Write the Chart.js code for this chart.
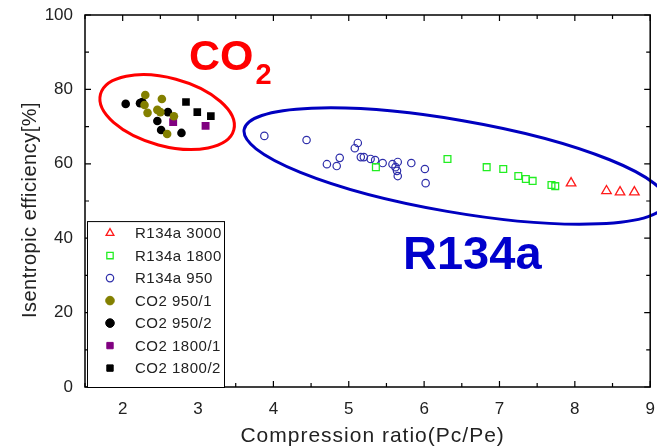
<!DOCTYPE html>
<html>
<head>
<meta charset="utf-8">
<script src="https://cdn.jsdelivr.net/npm/chart.js@4.4.0/dist/chart.umd.min.js"></script>
<style>
html,body{margin:0;padding:0;background:#fff;}
canvas{display:block;}
</style>
</head>
<body>
<canvas id="myScatter" width="657" height="448"></canvas>
<script>
// axis ticks
var xTicks=[2,3,4,5,6,7,8,9];
var yTicks=[0,20,40,60,80,100];
var xMinor=[1.5,2.5,3.5,4.5,5.5,6.5,7.5,8.5];
var yMinor=[10,30,50,70,90];
var xTitle='Compression ratio(Pc/Pe)';
var yTitle='Isentropic efficiency[%]';

// R134a series
var r134a3000X=[7.95,8.42,8.60,8.79];
var r134a3000Y=[54.8,52.7,52.4,52.4];
var r134a1800X=[5.36,6.31,6.83,7.05,7.25,7.35,7.44,7.69,7.74];
var r134a1800Y=[59.1,61.3,59.1,58.6,56.7,55.9,55.4,54.3,54.0];
var r134a950X=[3.88,4.44,4.71,4.84,4.88,5.08,5.12,5.16,5.20,5.29,5.35,5.45,5.58,5.62,5.64,5.65,5.65,5.83,6.01,6.02];
var r134a950Y=[67.5,66.4,59.9,59.4,61.6,64.2,65.6,61.8,61.8,61.3,61.0,60.2,59.9,59.1,58.1,56.7,60.5,60.2,58.6,54.8];

// CO2 series
var co2_950_1X=[2.29,2.30,2.33,2.46,2.50,2.52,2.59,2.68];
var co2_950_1Y=[75.8,78.5,73.7,74.5,73.9,77.4,68.0,72.8];
var co2_950_2X=[2.04,2.23,2.26,2.46,2.51,2.60,2.78];
var co2_950_2Y=[76.1,76.3,76.6,71.5,69.1,73.9,68.3];
var co2_1800_1X=[2.67,3.10];
var co2_1800_1Y=[71.2,70.2];
var co2_1800_2X=[2.84,2.99,3.17];
var co2_1800_2Y=[76.6,73.9,72.8];

function pts(xs,ys){
  var out=[];
  for(var i=0;i<xs.length;i++){out.push({x:xs[i],y:ys[i]});}
  return out;
}

var FONT="'Liberation Sans', Arial, sans-serif";

var datasets=[
  {label:"R134a 3000",data:pts(r134a3000X,r134a3000Y),pointStyle:'triangle',pointRadius:5.5,
   backgroundColor:'rgba(0,0,0,0)',borderColor:'#ff1a1a',pointBorderWidth:1.3},
  {label:"R134a 1800",data:pts(r134a1800X,r134a1800Y),pointStyle:'rect',pointRadius:4.8,
   backgroundColor:'rgba(0,0,0,0)',borderColor:'#22ee22',pointBorderWidth:1.3},
  {label:"R134a 950",data:pts(r134a950X,r134a950Y),pointStyle:'circle',pointRadius:3.7,
   backgroundColor:'rgba(0,0,0,0)',borderColor:'#2e2eaa',pointBorderWidth:1.2},
  {label:"CO2 950/1",data:pts(co2_950_1X,co2_950_1Y),pointStyle:'circle',pointRadius:4.3,
   backgroundColor:'#838000',borderColor:'#838000',pointBorderWidth:0},
  {label:"CO2 950/2",data:pts(co2_950_2X,co2_950_2Y),pointStyle:'circle',pointRadius:4.3,
   backgroundColor:'#000',borderColor:'#000',pointBorderWidth:0},
  {label:"CO2 1800/1",data:pts(co2_1800_1X,co2_1800_1Y),pointStyle:'rect',pointRadius:5.6,
   backgroundColor:'#800080',borderColor:'#800080',pointBorderWidth:0},
  {label:"CO2 1800/2",data:pts(co2_1800_2X,co2_1800_2Y),pointStyle:'rect',pointRadius:5.4,
   backgroundColor:'#000',borderColor:'#000',pointBorderWidth:0}
];

// ellipses + big labels (centres in data units)
var annoPlugin={
  id:'anno',
  beforeDatasetsDraw:function(chart){
    var ctx=chart.ctx, xs=chart.scales.x, ys=chart.scales.y;
    ctx.save();
    ctx.lineWidth=3;
    ctx.strokeStyle='#ff0000';
    ctx.beginPath();
    ctx.ellipse(xs.getPixelForValue(2.59),ys.getPixelForValue(73.9),69,34,15*Math.PI/180,0,2*Math.PI);
    ctx.stroke();
    ctx.strokeStyle='#0000c0';
    ctx.beginPath();
    ctx.ellipse(xs.getPixelForValue(6.41),ys.getPixelForValue(59.4),214,46,9.8*Math.PI/180,0,2*Math.PI);
    ctx.stroke();

    ctx.fillStyle='#ff0000';
    ctx.textBaseline='alphabetic';
    ctx.textAlign='left';
    var cx=xs.getPixelForValue(2.88), cy=ys.getPixelForValue(85.2);
    ctx.font='bold 43px '+FONT;
    ctx.fillText('CO',cx,cy);
    var w=ctx.measureText('CO').width;
    ctx.font='bold 29px '+FONT;
    ctx.fillText('2',cx+w+2,cy+14);

    ctx.fillStyle='#0000cc';
    ctx.font='bold 47px '+FONT;
    ctx.fillText('R134a',xs.getPixelForValue(5.72),ys.getPixelForValue(31.7));
    ctx.restore();
  }
};

function drawMarker(ctx,ds,x,y){
  ctx.save();
  ctx.fillStyle=ds.backgroundColor;
  ctx.strokeStyle=ds.borderColor;
  ctx.lineWidth=ds.pointBorderWidth||0;
  var r=ds.pointRadius;
  ctx.beginPath();
  if(ds.pointStyle==='triangle'){
    ctx.moveTo(x,y-r);
    ctx.lineTo(x+r*0.866,y+r*0.5);
    ctx.lineTo(x-r*0.866,y+r*0.5);
    ctx.closePath();
  }else if(ds.pointStyle==='rect'){
    var s=r*Math.SQRT1_2;
    ctx.rect(x-s,y-s,2*s,2*s);
  }else{
    ctx.arc(x,y,r,0,2*Math.PI);
  }
  ctx.fill();
  if(ctx.lineWidth>0){ctx.stroke();}
  ctx.restore();
}

// frame with inward ticks, axis titles, legend box
var framePlugin={
  id:'frame',
  afterDraw:function(chart){
    var ctx=chart.ctx, a=chart.chartArea, xs=chart.scales.x, ys=chart.scales.y;
    ctx.save();
    ctx.strokeStyle='#000';
    ctx.lineWidth=1.5;
    ctx.strokeRect(a.left,a.top,a.right-a.left,a.bottom-a.top);
    ctx.lineWidth=1.2;
    ctx.beginPath();
    function xt(v,len){
      var px=xs.getPixelForValue(v);
      ctx.moveTo(px,a.bottom);ctx.lineTo(px,a.bottom-len);
      ctx.moveTo(px,a.top);ctx.lineTo(px,a.top+len);
    }
    function yt(v,len){
      var py=ys.getPixelForValue(v);
      ctx.moveTo(a.left,py);ctx.lineTo(a.left+len,py);
      ctx.moveTo(a.right,py);ctx.lineTo(a.right-len,py);
    }
    xTicks.forEach(function(v){xt(v,6);});
    xMinor.forEach(function(v){xt(v,4);});
    yTicks.forEach(function(v){yt(v,6);});
    yMinor.forEach(function(v){yt(v,4);});
    ctx.stroke();

    // axis titles (letter-spaced like the original)
    ctx.fillStyle='#222';
    ctx.textAlign='center';
    ctx.textBaseline='middle';
    ctx.letterSpacing='1px';
    ctx.font='21px '+FONT;
    ctx.fillText(xTitle,(a.left+a.right)/2+5,436);
    ctx.save();
    ctx.translate(30,(a.top+a.bottom)/2+9);
    ctx.rotate(-Math.PI/2);
    ctx.letterSpacing='0.5px';
    ctx.font='20px '+FONT;
    ctx.fillText(yTitle,0,0);
    ctx.restore();

    // legend
    var lx=a.left+2, ly=ys.getPixelForValue(44.6), lw=137, lh=a.bottom-ly;
    ctx.fillStyle='#fff';
    ctx.fillRect(lx,ly,lw,lh);
    ctx.lineWidth=1;
    ctx.strokeStyle='#000';
    ctx.strokeRect(lx+0.5,ly+0.5,lw,lh);
    ctx.letterSpacing='0.5px';
    ctx.font='15px '+FONT;
    ctx.textBaseline='middle';
    ctx.textAlign='left';
    var dsets=chart.data.datasets;
    for(var i=0;i<dsets.length;i++){
      var yy=ly+12+i*22.5;
      var d=Object.assign({},dsets[i]);
      d.pointRadius=Math.min(d.pointRadius,4.5);
      drawMarker(ctx,d,lx+23,yy);
      ctx.fillStyle='#222';
      ctx.fillText(dsets[i].label,lx+48,yy+1);
    }
    ctx.letterSpacing='0px';
    ctx.restore();
  }
};

var ctx=document.getElementById('myScatter');
var scatter=new Chart(ctx,{
  type:'scatter',
  data:{datasets:datasets},
  plugins:[annoPlugin,framePlugin],
  options:{
    responsive:false,
    animation:false,
    devicePixelRatio:1,
    layout:{padding:{top:15,right:6,left:0,bottom:0}},
    plugins:{legend:{display:false},tooltip:{enabled:false}},
    scales:{
      x:{
        type:'linear',min:1.5,max:9,
        afterBuildTicks:function(s){s.ticks=xTicks.map(function(v){return {value:v};});},
        afterFit:function(s){s.height=61;s.paddingLeft=0;s.paddingRight=0;},
        grid:{display:false,drawTicks:false},
        border:{display:false},
        ticks:{padding:12,color:'#222',font:{family:FONT,size:17}}
      },
      y:{
        type:'linear',min:0,max:100,
        afterBuildTicks:function(s){s.ticks=yTicks.map(function(v){return {value:v};});},
        afterFit:function(s){s.width=85;s.paddingTop=0;s.paddingBottom=0;},
        grid:{display:false,drawTicks:false},
        border:{display:false},
        ticks:{padding:12,color:'#222',font:{family:FONT,size:17}}
      }
    }
  }
});
</script>
</body>
</html>
